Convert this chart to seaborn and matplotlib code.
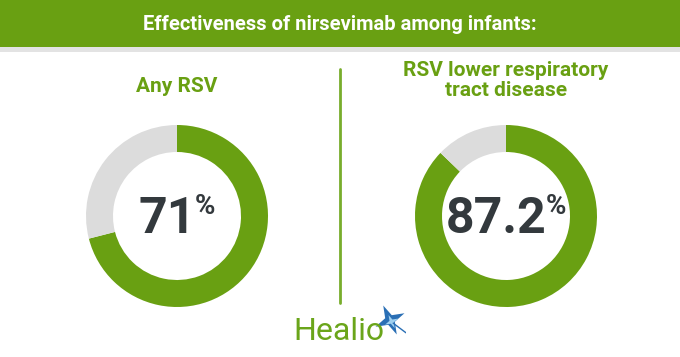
import matplotlib
matplotlib.use("Agg")
import matplotlib.pyplot as plt
import seaborn as sns
import numpy as np
from matplotlib.patches import Rectangle, Polygon
from matplotlib.lines import Line2D

sns.set_theme(style="white")
plt.rcParams['font.family'] = ['Roboto', 'DejaVu Sans']

title = "Effectiveness of nirsevimab among infants:"
categories = ["Any RSV", "RSV lower respiratory\ntract disease"]
values = [71, 87.2]
value_labels = ["71", "87.2"]
brand = "Healio"

GREEN = "#69a012"
GRAY = "#dcdcdc"
DARK = "#33393d"

W, H = 680, 357
fig = plt.figure(figsize=(W / 100, H / 100), dpi=100)
fig.patch.set_facecolor("white")

def fx(x):
    return x / W

def fy(y):
    return 1 - y / H

# header band
fig.patches.append(Rectangle((0, fy(47)), 1, 47 / H, transform=fig.transFigure,
                             facecolor=GREEN, edgecolor="none"))
fig.patches.append(Rectangle((0, fy(52)), 1, 5 / H, transform=fig.transFigure,
                             facecolor="#e3e3e3", edgecolor="none"))
fig.text(0.5, fy(25), title, ha="center", va="center", color="white",
         fontsize=14.5, fontweight="bold")

# divider
fig.lines.append(Line2D([fx(340), fx(340)], [fy(69), fy(303)], transform=fig.transFigure,
                        color="#78ad2c", linewidth=2))

centers = [177, 506]
R = 91
fig.canvas.draw()
r = fig.canvas.get_renderer()
for i, (cx, cat, v, vl) in enumerate(zip(centers, categories, values, value_labels)):
    ax = fig.add_axes([fx(cx - R), fy(216 + R), 2 * R / W, 2 * R / H])
    ax.pie([v, 100 - v], colors=[GREEN, GRAY], startangle=90, counterclock=False,
           radius=1, wedgeprops=dict(width=27 / R, edgecolor="none"))
    ax.set_xlim(-1, 1)
    ax.set_ylim(-1, 1)
    ax.set_aspect("auto")
    ax.axis("off")
    fig.text(fx(cx), fy(92 if i == 0 else 96), cat, ha="center", va="baseline",
             color=GREEN, fontsize=15, fontweight="bold", linespacing=1.1)

    # value text: number + superscript %
    t_num = fig.text(0, fy(233), vl, ha="left", va="baseline", color=DARK,
                     fontsize=36, fontweight="bold")
    t_pct = fig.text(0, fy(214), "%", ha="left", va="baseline", color=DARK,
                     fontsize=20, fontweight="bold")
    wn = t_num.get_window_extent(r).width
    wp = t_pct.get_window_extent(r).width
    gap = -1
    total = wn + gap + wp
    x0 = cx - total / 2
    t_num.set_x(fx(x0))
    t_pct.set_x(fx(x0 + wn + gap))

# brand
fig.text(fx(293), fy(340), brand, ha="left", va="baseline", color="#6aa51a",
         fontsize=23)
ax_s = fig.add_axes([fx(374), fy(336), 32 / W, 32 / H])
ang = np.deg2rad(np.arange(8) * 45 + 25)
rad = np.array([1.0, 0.32] * 4)
pts = np.c_[rad * np.cos(ang), rad * np.sin(ang)]
ax_s.add_patch(Polygon(pts, closed=True, facecolor="#2a6fb5", edgecolor="none"))
rad2 = np.array([0.45, 0.14] * 4)
pts2 = np.c_[rad2 * np.cos(ang) + 0.1, rad2 * np.sin(ang) - 0.1]
ax_s.add_patch(Polygon(pts2, closed=True, facecolor="#9fd0f0", edgecolor="none"))
ax_s.plot([0.2, 1.0], [-0.2, -0.8], color="#2a6fb5", linewidth=1)
ax_s.set_xlim(-1, 1)
ax_s.set_ylim(-1, 1)
ax_s.axis("off")

fig.savefig("out.png", dpi=100, facecolor="white")
